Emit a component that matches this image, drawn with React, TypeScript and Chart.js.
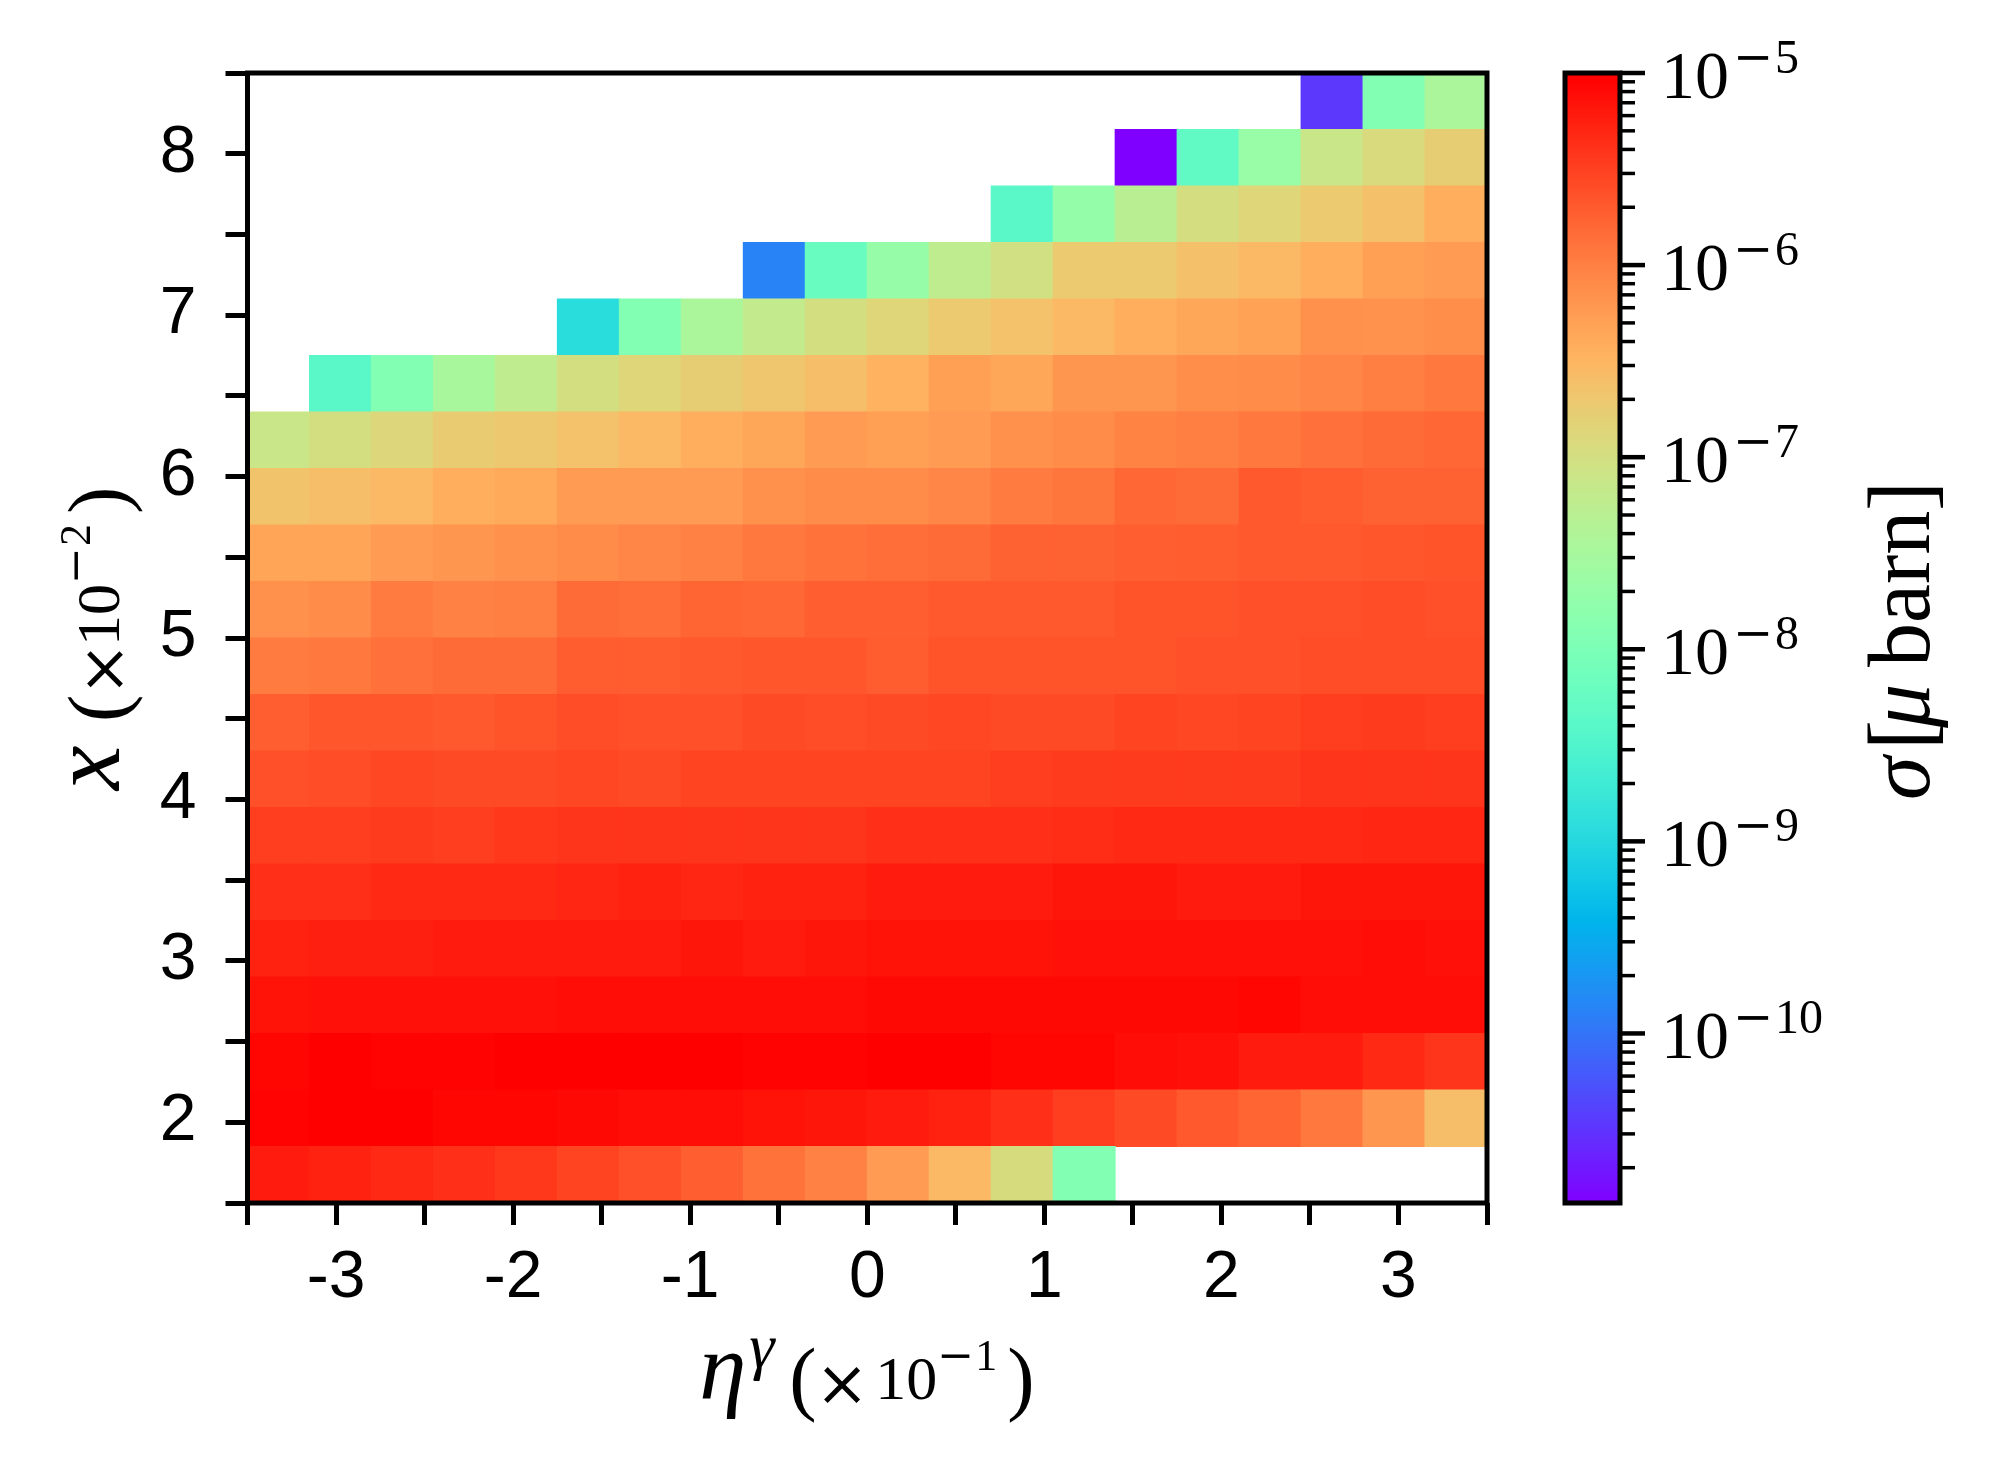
import React, { useEffect, useRef } from "react";
import { Chart, registerables } from "chart.js";

Chart.register(...registerables);

// ---- data ----
// bin edges (eta in units of 1e-1, x in units of 1e-2)
const etaEdges = [-3.5, -3.15, -2.8, -2.45, -2.1, -1.75, -1.4, -1.05, -0.7, -0.35, 0, 0.35, 0.7, 1.05, 1.4, 1.75, 2.1, 2.45, 2.8, 3.15, 3.5];
const xEdges = [1.5, 1.85, 2.2, 2.55, 2.9, 3.25, 3.6, 3.95, 4.3, 4.65, 5.0, 5.35, 5.7, 6.05, 6.4, 6.75, 7.1, 7.45, 7.8, 8.15, 8.5];

// sigma [micro barn]; one row per x bin (bottom row first), one entry per eta bin
const N = null;
const sigmaRows: (number | null)[][] = [
  [6.0e-6, 5.5e-6, 4.9e-6, 4.3e-6, 3.7e-6, 3.0e-6, 2.4e-6, 1.9e-6, 1.33e-6, 1.0e-6, 6.0e-7, 2.95e-7, 1.17e-7, 1.22e-8, N, N, N, N, N, N],
  [9.2e-6, 9.6e-6, 9.6e-6, 8.7e-6, 8.7e-6, 8.1e-6, 7.7e-6, 7.7e-6, 7.1e-6, 6.6e-6, 6.0e-6, 5.5e-6, 4.5e-6, 3.4e-6, 2.8e-6, 2.1e-6, 1.7e-6, 1.16e-6, 6.4e-7, 2.6e-7],
  [8.7e-6, 9.7e-6, 9.2e-6, 9.2e-6, 9.7e-6, 9.6e-6, 9.7e-6, 1.0e-5, 9.2e-6, 9.2e-6, 1.0e-5, 9.7e-6, 8.7e-6, 8.7e-6, 7.7e-6, 7.3e-6, 6.2e-6, 6.0e-6, 4.9e-6, 3.9e-6],
  [7.1e-6, 7.6e-6, 7.6e-6, 7.6e-6, 7.6e-6, 7.7e-6, 7.7e-6, 7.7e-6, 7.7e-6, 7.7e-6, 8.4e-6, 8.4e-6, 8.4e-6, 8.4e-6, 8.4e-6, 8.4e-6, 8.7e-6, 7.7e-6, 7.7e-6, 7.7e-6],
  [5.5e-6, 5.8e-6, 5.8e-6, 6.2e-6, 6.0e-6, 6.2e-6, 6.2e-6, 6.6e-6, 6.2e-6, 6.6e-6, 7.1e-6, 7.1e-6, 7.1e-6, 7.3e-6, 7.3e-6, 7.3e-6, 7.3e-6, 7.3e-6, 7.7e-6, 7.3e-6],
  [4.5e-6, 4.5e-6, 4.9e-6, 4.9e-6, 4.9e-6, 5.2e-6, 5.5e-6, 5.2e-6, 5.5e-6, 5.5e-6, 6.0e-6, 6.2e-6, 6.2e-6, 6.6e-6, 6.6e-6, 6.0e-6, 6.0e-6, 6.9e-6, 6.9e-6, 6.9e-6],
  [3.3e-6, 3.3e-6, 3.6e-6, 3.4e-6, 3.7e-6, 3.9e-6, 3.9e-6, 3.9e-6, 3.9e-6, 3.9e-6, 4.3e-6, 4.3e-6, 4.3e-6, 4.7e-6, 4.9e-6, 4.9e-6, 4.9e-6, 4.9e-6, 5.2e-6, 5.2e-6],
  [2.5e-6, 2.6e-6, 2.9e-6, 2.8e-6, 2.8e-6, 2.9e-6, 2.8e-6, 3.1e-6, 3.1e-6, 3.0e-6, 3.1e-6, 3.1e-6, 3.3e-6, 3.6e-6, 3.6e-6, 3.6e-6, 3.6e-6, 3.9e-6, 3.9e-6, 3.9e-6],
  [1.9e-6, 2.2e-6, 2.2e-6, 2.1e-6, 2.3e-6, 2.6e-6, 2.5e-6, 2.5e-6, 2.8e-6, 2.6e-6, 2.8e-6, 2.9e-6, 2.8e-6, 2.8e-6, 3.0e-6, 2.9e-6, 3.1e-6, 3.3e-6, 3.6e-6, 3.3e-6],
  [1.1e-6, 1.16e-6, 1.4e-6, 1.5e-6, 1.5e-6, 2.0e-6, 2.0e-6, 2.1e-6, 2.2e-6, 2.2e-6, 2.0e-6, 2.3e-6, 2.3e-6, 2.3e-6, 2.3e-6, 2.5e-6, 2.5e-6, 2.6e-6, 2.6e-6, 2.6e-6],
  [7.3e-7, 8.1e-7, 1.1e-6, 1.0e-6, 1.04e-6, 1.5e-6, 1.46e-6, 1.7e-6, 1.65e-6, 1.9e-6, 1.9e-6, 2.1e-6, 2.1e-6, 2.1e-6, 2.3e-6, 2.3e-6, 2.4e-6, 2.4e-6, 2.6e-6, 2.5e-6],
  [4.8e-7, 4.8e-7, 6.0e-7, 6.7e-7, 7.3e-7, 8.1e-7, 8.8e-7, 1.0e-6, 1.16e-6, 1.33e-6, 1.46e-6, 1.5e-6, 1.8e-6, 1.8e-6, 1.9e-6, 2.0e-6, 2.1e-6, 2.1e-6, 2.2e-6, 2.3e-6],
  [2.3e-7, 2.6e-7, 2.95e-7, 3.8e-7, 4.3e-7, 5.8e-7, 5.8e-7, 6.0e-7, 7.3e-7, 8.1e-7, 8.1e-7, 9.0e-7, 1.1e-6, 1.21e-6, 1.6e-6, 1.5e-6, 2.1e-6, 2.0e-6, 1.8e-6, 1.8e-6],
  [7.8e-8, 1.02e-7, 1.32e-7, 1.83e-7, 2.0e-7, 2.45e-7, 2.95e-7, 3.8e-7, 4.5e-7, 6.0e-7, 5.4e-7, 6.0e-7, 7.3e-7, 8.1e-7, 9.6e-7, 1.04e-6, 1.16e-6, 1.4e-6, 1.5e-6, 1.6e-6],
  [N, 4.2e-9, 1.22e-8, 3.4e-8, 6.0e-8, 1.02e-7, 1.4e-7, 1.74e-7, 2.2e-7, 2.6e-7, 3.4e-7, 5.4e-7, 4.5e-7, 6.7e-7, 6.4e-7, 7.8e-7, 8.1e-7, 8.8e-7, 1.04e-6, 1.16e-6],
  [N, N, N, N, N, 1.24e-9, 1.22e-8, 3.5e-8, 6.8e-8, 1.02e-7, 1.4e-7, 1.93e-7, 2.45e-7, 2.95e-7, 3.8e-7, 4.5e-7, 5.1e-7, 7.3e-7, 6.9e-7, 7.8e-7],
  [N, N, N, N, N, N, N, N, 1.4e-10, 6.1e-9, 2.1e-8, 6.0e-8, 9.7e-8, 1.93e-7, 1.93e-7, 2.5e-7, 2.95e-7, 3.8e-7, 5.2e-7, 5.8e-7],
  [N, N, N, N, N, N, N, N, N, N, N, N, 4.2e-9, 1.9e-8, 5.3e-8, 1.08e-7, 1.4e-7, 1.93e-7, 2.5e-7, 3.8e-7],
  [N, N, N, N, N, N, N, N, N, N, N, N, N, N, 1.31e-11, 5.0e-9, 2.2e-8, 7.8e-8, 1.2e-7, 1.74e-7],
  [N, N, N, N, N, N, N, N, N, N, N, N, N, N, N, N, N, 3.4e-11, 1.22e-8, 3.5e-8],
];

// colour scale limits and colorbar ticks
const VMIN = 1.31e-11;
const VMAX = 1.0e-5;
const cbMajorExponents = [-10, -9, -8, -7, -6, -5];
const cbMinorMultipliers = [2, 3, 4, 5, 6, 7, 8, 9];
const cbDecades = [-11, -10, -9, -8, -7, -6];

// axis ranges / ticks
const etaRange = [-3.5, 3.5];
const xRange = [1.5, 8.5];
const tickStep = 0.5;

// ---- helpers ----
function rainbow(t: number): string {
  const i = Math.max(0, Math.min(255, Math.floor(t * 256)));
  const x = i / 255;
  const r = Math.min(1, Math.abs(2 * x - 0.5));
  const g = Math.min(1, Math.max(0, Math.sin(Math.PI * x)));
  const b = Math.min(1, Math.max(0, Math.cos((Math.PI * x) / 2)));
  return `rgb(${Math.round(r * 255)},${Math.round(g * 255)},${Math.round(b * 255)})`;
}
const LMIN = Math.log10(VMIN);
const LMAX = Math.log10(VMAX);
function colorFor(v: number): string {
  return rainbow((Math.log10(v) - LMIN) / (LMAX - LMIN));
}

type Run = { t: string; font: string; dx: number; dy: number };
function drawRuns(ctx: CanvasRenderingContext2D, runs: Run[], ox: number, oy: number, angle: number) {
  ctx.save();
  ctx.translate(ox, oy);
  ctx.rotate(angle);
  ctx.fillStyle = "#000";
  ctx.textAlign = "left";
  ctx.textBaseline = "alphabetic";
  for (const r of runs) {
    ctx.font = r.font;
    ctx.fillText(r.t, r.dx, r.dy);
  }
  ctx.restore();
}

const SERIF = "'Liberation Serif', 'DejaVu Serif', serif";
const DSERIF = "'DejaVu Serif', serif";
const SANS = "'Liberation Sans', Arial, sans-serif";

const xLabelRuns: Run[] = [
  { t: "η", font: `italic 95px ${SERIF}`, dx: 0, dy: 0 },
  { t: "γ", font: `italic 64px ${SERIF}`, dx: 50, dy: -32 },
  { t: "(", font: `82px ${SERIF}`, dx: 90, dy: 6 },
  { t: "×", font: `64px ${DSERIF}`, dx: 116, dy: 6 },
  { t: "10", font: `62px ${SERIF}`, dx: 176, dy: 0 },
  { t: "−", font: `44px ${DSERIF}`, dx: 238, dy: -29 },
  { t: "1", font: `44px ${SERIF}`, dx: 276, dy: -29 },
  { t: ")", font: `82px ${SERIF}`, dx: 308, dy: 6 },
];
const yLabelRuns: Run[] = [
  { t: "x", font: `italic 100px ${SERIF}`, dx: 0, dy: 0 },
  { t: "(", font: `82px ${SERIF}`, dx: 68, dy: 6 },
  { t: "×", font: `64px ${DSERIF}`, dx: 94, dy: 6 },
  { t: "10", font: `62px ${SERIF}`, dx: 144, dy: 0 },
  { t: "−", font: `44px ${DSERIF}`, dx: 206, dy: -29 },
  { t: "2", font: `44px ${SERIF}`, dx: 244, dy: -29 },
  { t: ")", font: `82px ${SERIF}`, dx: 276, dy: 6 },
];
const cbLabelRuns: Run[] = [
  { t: "σ", font: `italic 88px ${SERIF}`, dx: 0, dy: 0 },
  { t: "[", font: `90px ${SERIF}`, dx: 50, dy: 2 },
  { t: "μ", font: `italic 88px ${SERIF}`, dx: 72, dy: 0 },
  { t: "barn", font: `88px ${SERIF}`, dx: 133, dy: 0 },
  { t: "]", font: `90px ${SERIF}`, dx: 289, dy: 2 },
];

// layout (pixels of the page)
const W = 1998;
const H = 1467;
const PLOT = { left: 247.5, right: 1487, top: 73, bottom: 1203 };
const CB = { left: 1565, right: 1620, top: 73, bottom: 1203 };

export default function App() {
  const mainRef = useRef<HTMLCanvasElement>(null);
  const cbRef = useRef<HTMLCanvasElement>(null);

  useEffect(() => {
    if (!mainRef.current || !cbRef.current) return;

    const datasets = sigmaRows.map((row, j) => ({
      label: `x ${xEdges[j]}-${xEdges[j + 1]}`,
      data: row
        .map((v, i) => (v === null ? null : { x: (etaEdges[i] + etaEdges[i + 1]) / 2, y: [xEdges[j], xEdges[j + 1]], v }))
        .filter((d) => d !== null),
      backgroundColor: (c: any) => (c.raw && c.raw.v ? colorFor(c.raw.v) : "rgba(0,0,0,0)"),
      borderWidth: 0,
      barPercentage: 1,
      categoryPercentage: 1,
      grouped: false,
      inflateAmount: 0.5,
    }));

    const framePlugin = {
      id: "frameAndLabels",
      afterDraw(chart: any) {
        const ctx = chart.ctx as CanvasRenderingContext2D;
        const a = chart.chartArea;
        ctx.save();
        ctx.strokeStyle = "#000";
        ctx.lineWidth = 5;
        ctx.strokeRect(a.left, a.top, a.right - a.left, a.bottom - a.top);
        ctx.restore();
        const cx = (a.left + a.right) / 2;
        drawRuns(ctx, xLabelRuns, cx - 168, 1399, 0);
        const cy = (a.top + a.bottom) / 2;
        drawRuns(ctx, yLabelRuns, 119, cy + 152, -Math.PI / 2);
      },
    };

    const tickFont = { family: SANS, size: 66 };
    const main = new Chart(mainRef.current, {
      type: "bar",
      data: { datasets: datasets as any },
      plugins: [framePlugin],
      options: {
        responsive: false,
        animation: false,
        devicePixelRatio: 1,
        layout: { padding: { left: 0, right: W - PLOT.right, top: PLOT.top, bottom: H - PLOT.bottom - 100 } },
        plugins: { legend: { display: false }, tooltip: { enabled: false }, title: { display: false } },
        scales: {
          x: {
            type: "linear",
            offset: false,
            min: etaRange[0],
            max: etaRange[1],
            afterFit: (s: any) => { s.height = 100; },
            grid: { display: true, offset: false, drawOnChartArea: false, drawTicks: true, tickLength: 22, tickWidth: 5, tickColor: "#000" },
            border: { display: false },
            ticks: {
              stepSize: tickStep,
              autoSkip: false,
              maxRotation: 0,
              padding: 14,
              color: "#000",
              font: tickFont,
              callback: (v: any) => (Number.isInteger(Number(v)) ? String(v) : ""),
            },
          },
          y: {
            type: "linear",
            min: xRange[0],
            max: xRange[1],
            stacked: false,
            afterFit: (s: any) => { s.width = PLOT.left; },
            grid: { display: true, drawOnChartArea: false, drawTicks: true, tickLength: 22, tickWidth: 5, tickColor: "#000" },
            border: { display: false },
            ticks: {
              stepSize: tickStep,
              autoSkip: false,
              padding: 29,
              color: "#000",
              font: tickFont,
              callback: (v: any) => (Number.isInteger(Number(v)) ? String(v) : ""),
            },
          },
        },
      } as any,
    });

    const cbPlugin = {
      id: "colorbarDecor",
      afterDraw(chart: any) {
        const ctx = chart.ctx as CanvasRenderingContext2D;
        const a = chart.chartArea;
        const ys = chart.scales.y;
        ctx.save();
        ctx.strokeStyle = "#000";
        ctx.lineCap = "butt";
        // minor ticks
        ctx.lineWidth = 3.5;
        for (const d of cbDecades) {
          for (const m of cbMinorMultipliers) {
            const v = m * Math.pow(10, d);
            if (v < VMIN || v > VMAX) continue;
            const py = ys.getPixelForValue(v);
            ctx.beginPath();
            ctx.moveTo(a.right, py);
            ctx.lineTo(a.right + 15, py);
            ctx.stroke();
          }
        }
        // major ticks + labels
        ctx.lineWidth = 4.5;
        for (const e of cbMajorExponents) {
          const py = ys.getPixelForValue(Math.pow(10, e));
          ctx.beginPath();
          ctx.moveTo(a.right, py);
          ctx.lineTo(a.right + 25, py);
          ctx.stroke();
          drawRuns(
            ctx,
            [
              { t: "10", font: `68px ${SERIF}`, dx: 0, dy: 25 },
              { t: "−", font: `48px ${DSERIF}`, dx: 72, dy: 0 },
              { t: String(-e), font: `48px ${SERIF}`, dx: 114, dy: 0 },
            ],
            1661,
            py,
            0
          );
        }
        // frame
        ctx.lineWidth = 5;
        ctx.strokeRect(a.left, a.top, a.right - a.left, a.bottom - a.top);
        ctx.restore();
        drawRuns(ctx, cbLabelRuns, 1929, (a.top + a.bottom) / 2 + 162, -Math.PI / 2);
      },
    };

    const cb = new Chart(cbRef.current, {
      type: "bar",
      data: {
        labels: ["σ"],
        datasets: [
          {
            data: [[VMIN, VMAX]] as any,
            backgroundColor: (c: any) => {
              const area = c.chart.chartArea;
              if (!area) return "#f00";
              const g = c.chart.ctx.createLinearGradient(0, area.bottom, 0, area.top);
              for (let i = 0; i <= 128; i++) g.addColorStop(i / 128, rainbow(i / 128));
              return g;
            },
            borderWidth: 0,
            barPercentage: 1,
            categoryPercentage: 1,
            inflateAmount: 0,
          },
        ],
      },
      plugins: [cbPlugin],
      options: {
        responsive: false,
        animation: false,
        devicePixelRatio: 1,
        layout: { padding: { left: CB.left, right: W - CB.right, top: CB.top, bottom: H - CB.bottom } },
        plugins: { legend: { display: false }, tooltip: { enabled: false } },
        scales: {
          x: { type: "category", display: false, offset: true },
          y: { type: "logarithmic", display: false, min: VMIN, max: VMAX },
        },
      } as any,
    });

    return () => {
      main.destroy();
      cb.destroy();
    };
  }, []);

  return (
    <div style={{ position: "absolute", left: 0, top: 0, width: W, height: H, background: "#fff" }}>
      <canvas ref={mainRef} width={W} height={H} style={{ position: "absolute", left: 0, top: 0 }} />
      <canvas ref={cbRef} width={W} height={H} style={{ position: "absolute", left: 0, top: 0 }} />
    </div>
  );
}
